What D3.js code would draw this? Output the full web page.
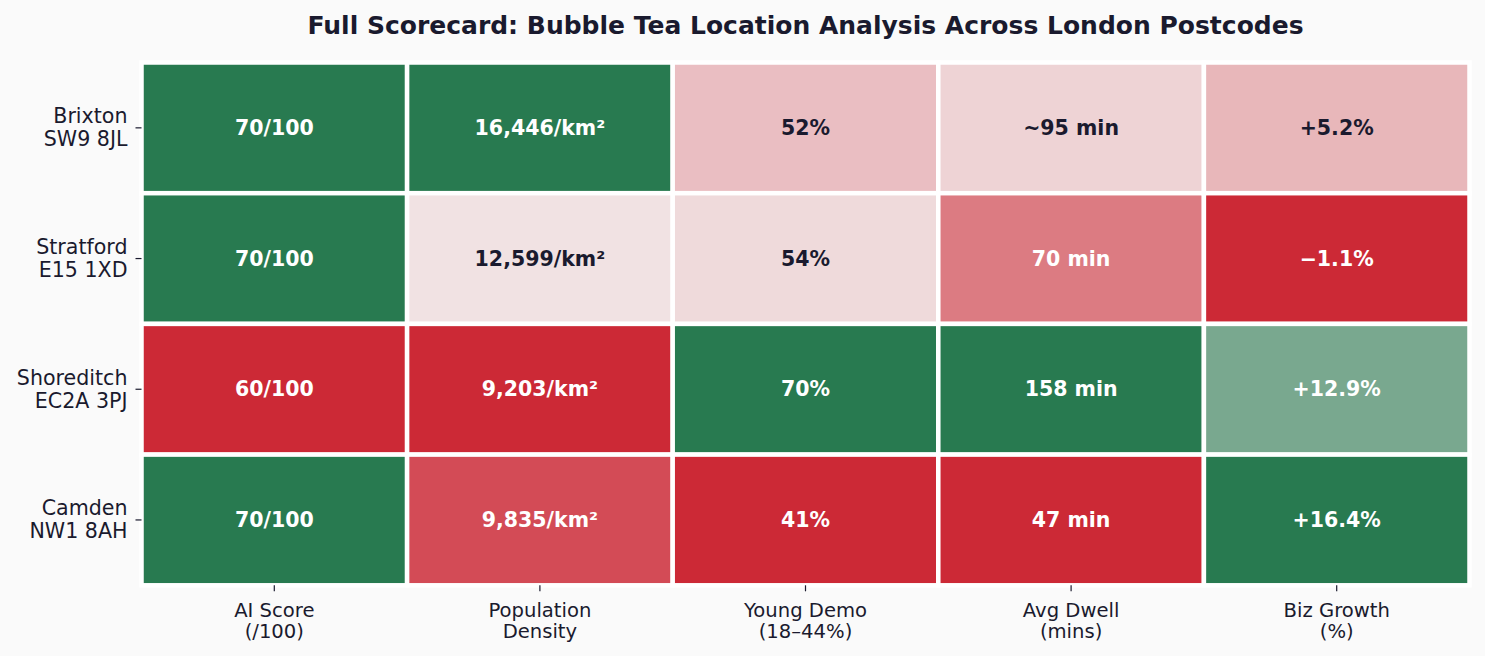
<!DOCTYPE html>
<html><head><meta charset="utf-8">
<script src="https://cdn.jsdelivr.net/npm/d3@7"></script>
<style>
html,body{margin:0;padding:0;background:#fafafa;}
svg{display:block;}
svg text{font-family:"DejaVu Sans",sans-serif;}
</style></head>
<body>
<svg id="chart" width="1485" height="656"></svg>
<script>
const locations = [["Brixton","SW9 8JL"],["Stratford","E15 1XD"],["Shoreditch","EC2A 3PJ"],["Camden","NW1 8AH"]];
const metrics = [["AI Score","(/100)"],["Population","Density"],["Young Demo","(18–44%)"],["Avg Dwell","(mins)"],["Biz Growth","(%)"]];
const aiScore = [70,70,60,70];
const popDensity = [16446,12599,9203,9835];
const youngDemo = [52,54,70,41];
const avgDwell = [95,70,158,47];
const bizGrowth = [5.2,-1.1,12.9,16.4];
const aiLabels = ["70/100","70/100","60/100","70/100"];
const popLabels = ["16,446/km²","12,599/km²","9,203/km²","9,835/km²"];
const youngLabels = ["52%","54%","70%","41%"];
const dwellLabels = ["~95 min","70 min","158 min","47 min"];
const bizLabels = ["+5.2%","−1.1%","+12.9%","+16.4%"];

const columns = [aiScore,popDensity,youngDemo,avgDwell,bizGrowth];
const colLabels = [aiLabels,popLabels,youngLabels,dwellLabels,bizLabels];

const svg = d3.select("#chart");
const W=1485,H=656;
const m={left:141.5,right:W-1469.5,top:62.5,bottom:H-585.3};
const x=d3.scaleBand().domain(d3.range(metrics.length)).range([m.left,W-m.right]);
const y=d3.scaleBand().domain(d3.range(locations.length)).range([m.top,H-m.bottom]);
const color=d3.scaleLinear().domain([0,0.5,1]).range(["#cc2936","#f3eeee","#287a50"]).interpolate(d3.interpolateRgb);

const cells=[];
columns.forEach((col,j)=>{
  const ext=d3.extent(col);
  const norm=d3.scaleLinear().domain(ext).range([0,1]);
  col.forEach((v,i)=>cells.push({i,j,v,n:norm(v),label:colLabels[j][i]}));
});

const g=svg.append("g");
g.selectAll("rect").data(cells).join("rect")
 .attr("x",d=>x(d.j)).attr("y",d=>y(d.i))
 .attr("width",x.bandwidth()).attr("height",y.bandwidth())
 .attr("fill",d=>color(d.n)).attr("stroke","white").attr("stroke-width",4.5);

g.selectAll("text.val").data(cells).join("text").attr("class","val")
 .attr("x",d=>x(d.j)+x.bandwidth()/2).attr("y",d=>y(d.i)+y.bandwidth()/2)
 .attr("text-anchor","middle").attr("dominant-baseline","central")
 .attr("font-size","20.5px").attr("font-weight","bold")
 .attr("fill",d=>{const c=d3.hsl(color(d.n));return c.l>0.75?"#1a1a2e":"white";})
 .text(d=>d.label);

// y axis
const yAxis=svg.append("g").attr("transform",`translate(${m.left},0)`)
 .call(d3.axisLeft(y).tickSize(6).tickPadding(8).tickFormat(""));
yAxis.attr("font-family",null).attr("font-size",null);
yAxis.select(".domain").remove();
yAxis.selectAll(".tick line").attr("stroke","#1a1a2e").attr("stroke-width",1.2);
yAxis.selectAll(".tick").each(function(d){
  const t=d3.select(this).append("text").attr("fill","#1a1a2e").attr("text-anchor","end")
   .attr("font-size","20.6px");
  t.append("tspan").attr("x",-14).attr("y",-4.5).text(locations[d][0]);
  t.append("tspan").attr("x",-14).attr("y",18.3).text(locations[d][1]);
});

// x axis
const xAxis=svg.append("g").attr("transform",`translate(0,${H-m.bottom})`)
 .call(d3.axisBottom(x).tickSize(6).tickPadding(8).tickFormat(""));
xAxis.attr("font-family",null).attr("font-size",null);
xAxis.select(".domain").remove();
xAxis.selectAll(".tick line").attr("stroke","#1a1a2e").attr("stroke-width",1.2);
xAxis.selectAll(".tick").each(function(d){
  const t=d3.select(this).append("text").attr("fill","#1a1a2e").attr("text-anchor","middle")
   .attr("font-size","19.6px");
  t.append("tspan").attr("x",0).attr("y",31.4).text(metrics[d][0]);
  t.append("tspan").attr("x",0).attr("y",52.8).text(metrics[d][1]);
});

svg.append("text").attr("x",(m.left+W-m.right)/2).attr("y",33.5)
 .attr("text-anchor","middle").attr("font-size","25px").attr("font-weight","bold")
 .attr("fill","#1a1a2e").text("Full Scorecard: Bubble Tea Location Analysis Across London Postcodes");
</script>
</body></html>
